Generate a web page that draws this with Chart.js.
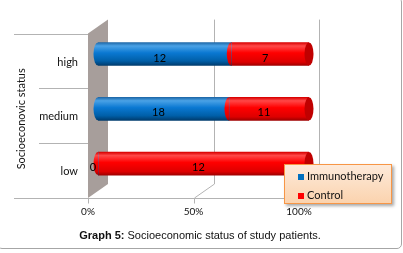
<!DOCTYPE html>
<html>
<head>
<meta charset="utf-8">
<script src="https://cdn.jsdelivr.net/npm/chart.js@4.4.1/dist/chart.umd.min.js"></script>
<style>
  body { margin: 0; background: #fff; }
  #wrap { position: relative; width: 403px; height: 253px; overflow: hidden; background: #fff; }
  #frame { position: absolute; left: -3px; top: -3px; width: 405px; height: 252px; border: 1px solid #a6a6a6; border-radius: 5px; box-sizing: border-box; }
  #chart { position: absolute; left: 0; top: 0; }
  #legend { position: absolute; left: 284px; top: 164px; width: 108px; height: 40px; box-sizing: border-box;
            border: 1px solid #f79646; background: linear-gradient(#fdeada, #fbd3ae);
            box-shadow: 2px 2px 3px rgba(0,0,0,0.35); font: 11px Lato, sans-serif; color: #111; }
  #legend div { position: absolute; left: 13px; height: 14px; line-height: 14px; white-space: nowrap; }
  #legend span { display: inline-block; width: 6px; height: 6px; margin-right: 3px; vertical-align: 0px; }
  #caption { position: absolute; left: 0; width: 400px; top: 229px; text-align: center;
             font: 11px "Liberation Sans", Arial, sans-serif; color: #111; }
</style>
</head>
<body>
<div id="wrap">
  <canvas id="chart" width="403" height="253"></canvas>
  <div id="frame"></div>
  <div id="legend"></div>
  <div id="caption"><b>Graph 5:</b> Socioeconomic status of study patients.</div>
</div>
<script>
const categories = ['high', 'medium', 'low'];
const immunotherapy = [12, 18, 0];
const control = [7, 11, 12];
const seriesNames = ['Immunotherapy', 'Control'];
const seriesColors = ['#0070c0', '#ff0000'];
const xTickLabels = ['0%', '50%', '100%'];
const yTitle = 'Socioeconovic status';

const BAR = 23;
const DEPTH_X = 10, DEPTH_Y = 7;

// stacked to 100%
const totals = categories.map((c, i) => immunotherapy[i] + control[i]);
const pctImmuno = immunotherapy.map((v, i) => v / totals[i] * 100);
const pctControl = control.map((v, i) => v / totals[i] * 100);

const gradStops = [
    [[0, '#1e68a8'], [0.15, '#4aa2e6'], [0.45, '#0a78d2'], [0.8, '#005fa8'], [1, '#003c6e']],
    [[0, '#d80000'], [0.15, '#ff4848'], [0.45, '#ff0000'], [0.85, '#dd0000'], [1, '#a00000']]
];
const capColors = ['#004a85', '#c00000'];

function cylinder(ctx, top, stops) {
    const g = ctx.createLinearGradient(0, top, 0, top + BAR);
    stops.forEach(s => g.addColorStop(s[0], s[1]));
    return g;
}

function barFill(ds) {
    return function(c) {
        const chart = c.chart;
        if (!chart.chartArea) return seriesColors[ds];
        const y = chart.scales.y.getPixelForValue(c.dataIndex);
        return cylinder(chart.ctx, y - BAR / 2, gradStops[ds]);
    };
}

// legend
const legend = document.getElementById('legend');
seriesNames.forEach((name, i) => {
    const row = document.createElement('div');
    row.style.top = (4 + i * 19) + 'px';
    row.innerHTML = '<span style="background:' + seriesColors[i] + '"></span>' + name;
    legend.appendChild(row);
});

const scene3d = {
    id: 'scene3d',
    beforeDatasetsDraw(chart) {
        const ctx = chart.ctx, a = chart.chartArea, xs = chart.scales.x;
        const L = a.left, T = a.top, B = a.bottom;
        ctx.save();
        // side wall
        ctx.fillStyle = '#a79e9b';
        ctx.beginPath();
        ctx.moveTo(L - DEPTH_X, T + DEPTH_Y);
        ctx.lineTo(L + DEPTH_X, T - DEPTH_Y);
        ctx.lineTo(L + DEPTH_X, B - DEPTH_Y);
        ctx.lineTo(L - DEPTH_X, B + DEPTH_Y);
        ctx.closePath();
        ctx.fill();

        ctx.strokeStyle = '#b3b3b3';
        ctx.lineWidth = 1;
        // back gridlines and floor diagonals
        [50, 100].forEach(v => {
            const x = Math.round(xs.getPixelForValue(v) + DEPTH_X) + 0.5;
            ctx.beginPath();
            ctx.moveTo(x, T - DEPTH_Y);
            ctx.lineTo(x, B - DEPTH_Y);
            ctx.lineTo(x - 2 * DEPTH_X, B + DEPTH_Y);
            ctx.stroke();
        });
        // category separators (front plane)
        const band = (B - T) / categories.length;
        for (let i = 0; i <= categories.length; i++) {
            const y = Math.round(T + DEPTH_Y + i * band) + 0.5;
            const xStart = (i === 0 || i === categories.length) ? 14 : 39;
            ctx.beginPath();
            ctx.moveTo(xStart, y);
            ctx.lineTo(L - DEPTH_X, y);
            ctx.stroke();
        }
        // floor front edge + ticks
        const yf = Math.round(B + DEPTH_Y) + 0.5;
        ctx.beginPath();
        ctx.moveTo(L - DEPTH_X, yf);
        ctx.lineTo(xs.getPixelForValue(100) - DEPTH_X, yf);
        ctx.stroke();
        [0, 50, 100].forEach(v => {
            const x = Math.round(xs.getPixelForValue(v) - DEPTH_X) + 0.5;
            ctx.beginPath();
            ctx.moveTo(x, yf);
            ctx.lineTo(x, yf + 5);
            ctx.stroke();
        });
        ctx.restore();
    },
    afterDatasetsDraw(chart) {
        const ctx = chart.ctx, a = chart.chartArea;
        const metas = [chart.getDatasetMeta(0), chart.getDatasetMeta(1)];
        const counts = [immunotherapy, control];
        ctx.save();
        categories.forEach((c, i) => {
            let lastEnd = null, lastDs = 0;
            metas.forEach((m, ds) => {
                const el = m.data[i];
                const x0 = Math.min(el.x, el.base), x1 = Math.max(el.x, el.base);
                if (x1 - x0 < 0.5) return;
                // rounded left face of each segment
                ctx.fillStyle = cylinder(ctx, el.y - BAR / 2, gradStops[ds]);
                ctx.beginPath();
                ctx.ellipse(x0, el.y, 4.5, BAR / 2, 0, Math.PI / 2, Math.PI * 1.5);
                ctx.closePath();
                ctx.fill();
                lastEnd = x1; lastDs = ds;
            });
            if (lastEnd !== null) {
                const y = metas[0].data[i].y;
                ctx.fillStyle = capColors[lastDs];
                ctx.beginPath();
                ctx.ellipse(lastEnd, y, 4.5, BAR / 2, 0, 0, Math.PI * 2);
                ctx.fill();
            }
            // value labels
            ctx.fillStyle = '#000';
            ctx.font = '11px Lato, sans-serif';
            ctx.textAlign = 'center';
            ctx.textBaseline = 'middle';
            metas.forEach((m, ds) => {
                const el = m.data[i];
                const xc = (el.x + el.base) / 2 - 5;
                ctx.fillText(String(counts[ds][i]), xc, el.y + 4);
            });
        });
        // axis title, centred on the front plane
        ctx.fillStyle = '#111';
        ctx.font = '11px Lato, sans-serif';
        ctx.translate(21, (a.top + a.bottom) / 2 + DEPTH_Y + 3);
        ctx.rotate(-Math.PI / 2);
        ctx.textAlign = 'center';
        ctx.textBaseline = 'middle';
        ctx.fillText(yTitle, 0, 0);
        ctx.restore();
    }
};

new Chart(document.getElementById('chart'), {
    type: 'bar',
    data: {
        labels: categories,
        datasets: [
            { label: seriesNames[0], data: pctImmuno, backgroundColor: barFill(0), barThickness: BAR, borderWidth: 0 },
            { label: seriesNames[1], data: pctControl, backgroundColor: barFill(1), barThickness: BAR, borderWidth: 0 }
        ]
    },
    options: {
        indexAxis: 'y',
        responsive: false,
        animation: false,
        layout: { padding: { top: 18, right: 94, left: 0, bottom: 0 } },
        plugins: { legend: { display: false }, tooltip: { enabled: false } },
        scales: {
            x: {
                stacked: true, min: 0, max: 100,
                grid: { display: false, drawTicks: false },
                border: { display: false },
                afterFit: s => { s.height = 62; },
                ticks: {
                    stepSize: 50, padding: 15, labelOffset: -DEPTH_X,
                    color: '#111', font: { family: 'Lato', size: 10 },
                    callback: (v, i) => xTickLabels[i]
                }
            },
            y: {
                stacked: true,
                grid: { display: false, drawTicks: false },
                border: { display: false },
                afterFit: s => { s.width = 98; },
                ticks: { padding: 20, labelOffset: 8, color: '#111', font: { family: 'Lato', size: 11 } }
            }
        }
    },
    plugins: [scene3d]
});
</script>
</body>
</html>
